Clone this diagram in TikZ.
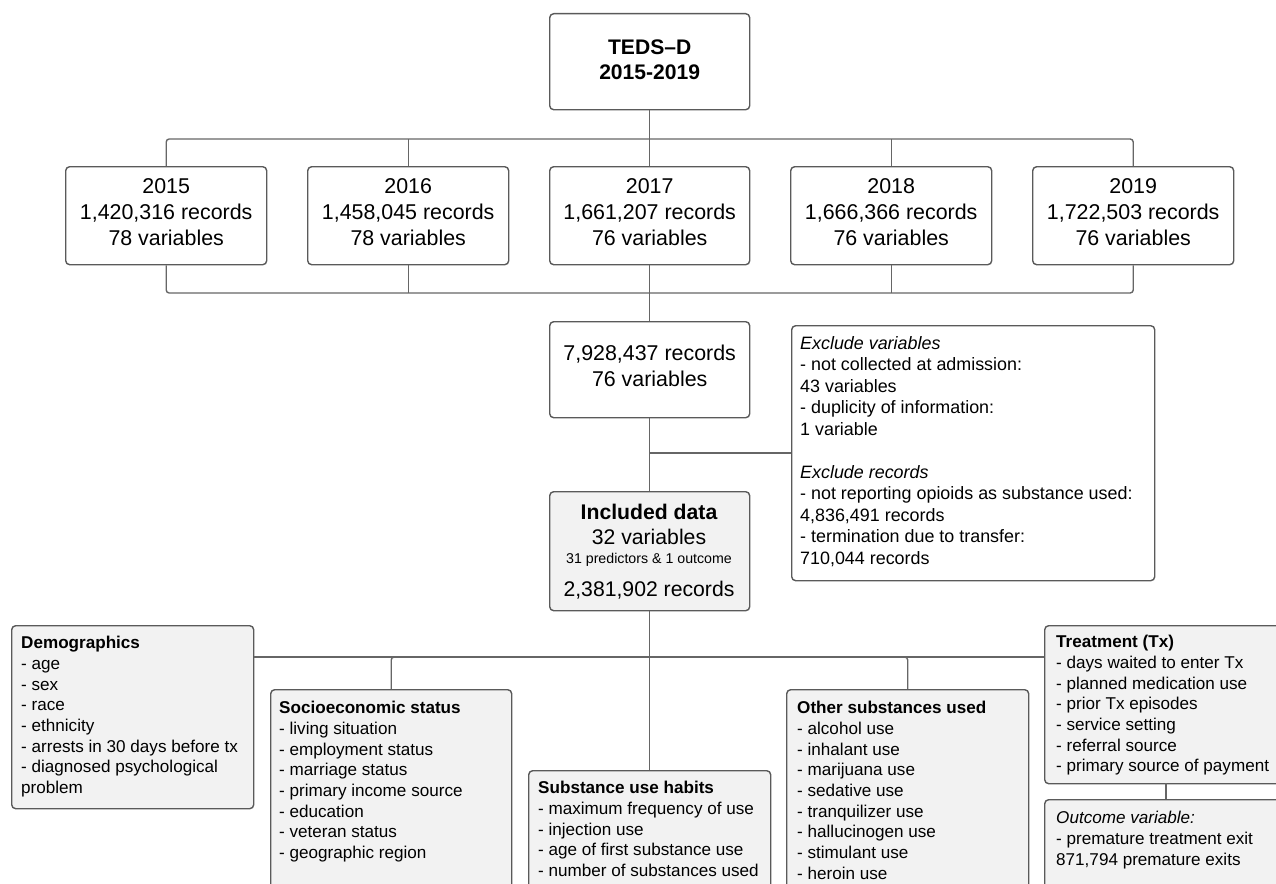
\documentclass[tikz,border=0pt]{standalone}
\usepackage{fontspec}
\setmainfont{Liberation Sans}
\definecolor{bordc}{HTML}{5A5A5A}
\definecolor{connc}{HTML}{666666}
\definecolor{fillg}{HTML}{F2F2F2}
\begin{document}
\begin{tikzpicture}[x=1pt,y=-1pt,
 box/.style={draw=bordc, line width=1.4pt, rounded corners=4pt, inner sep=0pt, anchor=north west},
 wbox/.style={box, fill=white},
 gbox/.style={box, fill=fillg},
 conn/.style={draw=connc, line width=1.4pt, rounded corners=3pt},
 yrtxt/.style={align=center, inner sep=0pt, font=\fontsize{21.4}{26}\selectfont},
 lt/.style={anchor=north west, inner sep=0pt, align=left, font=\fontsize{17.1}{20.7}\selectfont},
 ct/.style={anchor=base, inner sep=0pt},
]
\useasboundingbox (0,0) rectangle (1276,883);
\clip (0,0) rectangle (1276,883);

% top
\node[wbox, minimum width=200pt, minimum height=96pt] (teds) at (549,13) {};
\node[align=center, inner sep=0pt, font=\bfseries\fontsize{21.1}{25}\selectfont] (tedst) at ([yshift=2pt]teds.center) {TEDS–D\\2015-2019};

% years
\node[wbox, minimum width=201pt, minimum height=98pt] (y15) at (65,166) {};
\node[wbox, minimum width=201pt, minimum height=98pt] (y16) at (307,166) {};
\node[wbox, minimum width=200pt, minimum height=98pt] (y17) at (549,166) {};
\node[wbox, minimum width=201pt, minimum height=98pt] (y18) at (790,166) {};
\node[wbox, minimum width=201pt, minimum height=98pt] (y19) at (1032,166) {};
\node[yrtxt] (y15t) at ([yshift=4pt]y15.center) {2015\\1,420,316 records\\78 variables};
\node[yrtxt] (y16t) at ([yshift=4pt]y16.center) {2016\\1,458,045 records\\78 variables};
\node[yrtxt] (y17t) at ([yshift=4pt]y17.center) {2017\\1,661,207 records\\76 variables};
\node[yrtxt] (y18t) at ([yshift=4pt]y18.center) {2018\\1,666,366 records\\76 variables};
\node[yrtxt] (y19t) at ([yshift=4pt]y19.center) {2019\\1,722,503 records\\76 variables};

% merged
\node[wbox, minimum width=200pt, minimum height=96pt] (merged) at (549,321) {};
\node[yrtxt] (mergedt) at ([yshift=4pt]merged.center) {7,928,437 records\\76 variables};

% exclude
\node[wbox, minimum width=363pt, minimum height=255pt] (excl) at (791,325) {};
\node[lt, font=\fontsize{17.9}{21.5}\selectfont] (excltxt) at (800,336) {\textit{Exclude variables}\\- not collected at admission:\\43 variables\\- duplicity of information:\\1 variable\\[21.5pt]\textit{Exclude records}\\- not reporting opioids as substance used:\\4,836,491 records\\- termination due to transfer:\\710,044 records};

% included
\node[gbox, minimum width=200pt, minimum height=119pt] (incl) at (549,491) {};
\node[ct, font=\bfseries\fontsize{21.2}{25}\selectfont] (inc1) at (649,519) {Included data};
\node[ct, font=\fontsize{21.2}{25}\selectfont] (inc2) at (649,544) {32 variables};
\node[ct, font=\fontsize{14.2}{17}\selectfont] (inc3) at (649,563) {31 predictors \& 1 outcome};
\node[ct, font=\fontsize{21.2}{25}\selectfont] (inc4) at (649,596) {2,381,902 records};

% bottom boxes
\node[gbox, minimum width=242pt, minimum height=183pt] (demo) at (11,625) {};
\node[lt] (demotxt) at (21,636) {\textbf{Demographics}\\- age\\- sex\\- race\\- ethnicity\\- arrests in 30 days before tx\\- diagnosed psychological\\problem};

\node[gbox, minimum width=241pt, minimum height=230pt] (ses) at (270,689) {};
\node[lt] (sestxt) at (279,701) {\textbf{Socioeconomic status}\\- living situation\\- employment status\\- marriage status\\- primary income source\\- education\\- veteran status\\- geographic region};

\node[gbox, minimum width=242pt, minimum height=140pt] (subst) at (528,770) {};
\node[lt] (substtxt) at (538,781) {\textbf{Substance use habits}\\- maximum frequency of use\\- injection use\\- age of first substance use\\- number of substances used};

\node[gbox, minimum width=242pt, minimum height=230pt] (other) at (786,689) {};
\node[lt] (othertxt) at (797,701) {\textbf{Other substances used}\\- alcohol use\\- inhalant use\\- marijuana use\\- sedative use\\- tranquilizer use\\- hallucinogen use\\- stimulant use\\- heroin use};

\node[gbox, minimum width=250pt, minimum height=158pt] (treat) at (1044,625) {};
\node[lt] (treattxt) at (1056,635) {\textbf{Treatment (Tx)}\\- days waited to enter Tx\\- planned medication use\\- prior Tx episodes\\- service setting\\- referral source\\- primary source of payment};

\node[gbox, minimum width=250pt, minimum height=110pt] (outc) at (1044,799) {};
\node[lt] (outctxt) at (1056,811) {\textit{Outcome variable:}\\- premature treatment exit\\871,794 premature exits};

% connectors
\coordinate (tj) at (649,139);
\coordinate (bj) at (649,293);
\coordinate (ej) at (649,453);
\coordinate (cj) at (649,657);
\coordinate (tb) at (1166,783);

\draw[conn] (teds.south) -- (y17.north);
\draw[conn] (y15.north) |- (tj) -| (y19.north);
\draw[conn] (y16.north) -- (y16.north |- tj);
\draw[conn] (y18.north) -- (y18.north |- tj);

\draw[conn] (y15.south) |- (bj) -| (y19.south);
\draw[conn] (y16.south) -- (y16.south |- bj);
\draw[conn] (y18.south) -- (y18.south |- bj);
\draw[conn] (y17.south) -- (merged.north);

\draw[conn] (merged.south) -- (incl.north);
\draw[conn] (ej) -- (ej -| excl.west);

\draw[conn] (incl.south) -- (subst.north);
\draw[conn] (cj -| demo.east) -- (cj -| treat.west);
\draw[conn] (ses.north) |- (cj);
\draw[conn] (other.north) |- (cj);
\draw[conn] (tb) -- (tb |- outc.north);
\end{tikzpicture}
\end{document}
